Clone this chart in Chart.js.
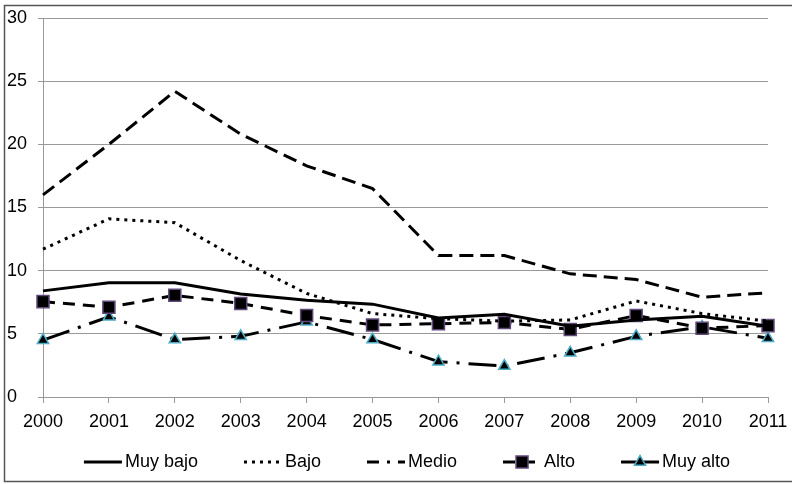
<!DOCTYPE html>
<html>
<head>
<meta charset="utf-8">
<script src="https://cdn.jsdelivr.net/npm/chart.js@4.4.1/dist/chart.umd.min.js"></script>
<style>
  html, body { margin: 0; padding: 0; background: #fff; }
  #wrap { width: 792px; height: 484px; position: relative; }
</style>
</head>
<body>
<div id="wrap"><canvas id="chart"></canvas></div>
<script>
// data
const years = ["2000", "2001", "2002", "2003", "2004", "2005", "2006", "2007", "2008", "2009", "2010", "2011"];
const muyBajo = [8.4, 9.05, 9.05, 8.15, 7.65, 7.35, 6.25, 6.55, 5.6, 6.1, 6.4, 5.6];
const bajo = [11.7, 14.1, 13.8, 10.8, 8.2, 6.6, 6.2, 6.0, 6.1, 7.6, 6.6, 6.0];
const medio = [16.0, 20.0, 24.2, 20.8, 18.3, 16.5, 11.2, 11.2, 9.75, 9.3, 7.9, 8.25];
const alto = [7.55, 7.1, 8.05, 7.4, 6.45, 5.7, 5.8, 5.9, 5.35, 6.45, 5.45, 5.65];
const muyAlto = [4.5, 6.35, 4.55, 4.8, 5.95, 4.55, 2.8, 2.45, 3.5, 4.8, 5.55, 4.65];
const yMin = 0, yMax = 30, yStep = 5;

const FONT = "'Liberation Sans', Arial, sans-serif";
const FONT_SIZE = 18;

function series(label, data, dash, extra) {
  return Object.assign({
    label: label,
    data: data,
    borderColor: "#000",
    backgroundColor: "#000",
    borderWidth: 3,
    borderDash: dash,
    tension: 0,
    pointRadius: 0,
    pointHoverRadius: 0,
  }, extra || {});
}

// frame around the whole picture
const framePlugin = {
  id: "frame",
  afterDraw(chart) {
    const ctx = chart.ctx;
    ctx.save();
    ctx.strokeStyle = "#555";
    ctx.lineWidth = 1.5;
    ctx.strokeRect(4.5, 5.5, 800, 476);
    ctx.restore();
  }
};

// legend with line samples and markers, one row at the bottom
const legendPlugin = {
  id: "lineLegend",
  afterDraw(chart) {
    const ctx = chart.ctx;
    const sample = 38, gap = 46, y = 462;
    ctx.save();
    ctx.font = FONT_SIZE + "px " + FONT;
    ctx.textBaseline = "middle";
    const sets = chart.data.datasets;
    const widths = sets.map(ds => sample + 3 + ctx.measureText(ds.label).width);
    const total = widths.reduce((a, b) => a + b, 0) + gap * (sets.length - 1);
    let x = 407 - total / 2;
    sets.forEach((ds, i) => {
      ctx.strokeStyle = "#000";
      ctx.lineWidth = 3;
      ctx.setLineDash(ds.legendDash || ds.borderDash || []);
      ctx.beginPath();
      ctx.moveTo(x, y);
      ctx.lineTo(x + sample, y);
      ctx.stroke();
      ctx.setLineDash([]);
      if (ds.pointStyle) {
        const r = ds.pointRadius;
        const cx = x + sample / 2;
        ctx.fillStyle = ds.pointBackgroundColor;
        ctx.strokeStyle = ds.pointBorderColor;
        ctx.lineWidth = ds.pointBorderWidth;
        ctx.beginPath();
        if (ds.pointStyle === "rect") {
          const s = Math.SQRT1_2 * r;
          ctx.rect(cx - s, y - s, 2 * s, 2 * s);
        } else {
          ctx.moveTo(cx, y - r);
          ctx.lineTo(cx + r * Math.cos(Math.PI / 6), y + r / 2);
          ctx.lineTo(cx - r * Math.cos(Math.PI / 6), y + r / 2);
          ctx.closePath();
        }
        ctx.fill();
        ctx.stroke();
      }
      ctx.fillStyle = "#000";
      ctx.fillText(ds.label, x + sample + 3, y);
      x += widths[i] + gap;
    });
    ctx.restore();
  }
};

new Chart(document.getElementById("chart"), {
  type: "line",
  data: {
    labels: years,
    datasets: [
      series("Muy bajo", muyBajo, []),
      series("Bajo", bajo, [3, 5]),
      series("Medio", medio, [14, 7], { legendDash: [12, 8, 3, 8] }),
      series("Alto", alto, [12, 8], {
        pointStyle: "rect",
        pointRadius: 8.5,
        pointHoverRadius: 8.5,
        pointBackgroundColor: "#000",
        pointBorderColor: "#60497a",
        pointBorderWidth: 1.5,
      }),
      series("Muy alto", muyAlto, [28, 9, 3, 9], {
        legendDash: [],
        pointStyle: "triangle",
        pointRadius: 6.5,
        pointHoverRadius: 6.5,
        pointBackgroundColor: "#000",
        pointBorderColor: "#4bacc6",
        pointBorderWidth: 1.5,
      }),
    ],
  },
  options: {
    responsive: true,
    maintainAspectRatio: false,
    animation: false,
    layout: {
      padding: { left: 7, right: 24, top: 18, bottom: 47 },
    },
    plugins: {
      legend: { display: false },
      tooltip: { enabled: false },
    },
    scales: {
      x: {
        offset: false,
        afterFit(scale) {
          scale.height = 40;
          scale.paddingLeft = 0;
          scale.paddingRight = 0;
        },
        grid: {
          drawOnChartArea: false,
          drawTicks: true,
          tickLength: 6,
          color: "#999",
        },
        border: { color: "#999", width: 1 },
        ticks: {
          color: "#000",
          font: { family: FONT, size: FONT_SIZE },
          padding: 8,
          maxRotation: 0,
          autoSkip: false,
        },
      },
      y: {
        min: yMin,
        max: yMax,
        afterFit(scale) { scale.width = 36; },
        grid: {
          color: "#999",
          tickLength: 5,
        },
        border: { color: "#999", width: 1 },
        ticks: {
          stepSize: yStep,
          color: "#000",
          crossAlign: "far",
          font: { family: FONT, size: FONT_SIZE },
        },
      },
    },
  },
  plugins: [framePlugin, legendPlugin],
});
</script>
</body>
</html>
